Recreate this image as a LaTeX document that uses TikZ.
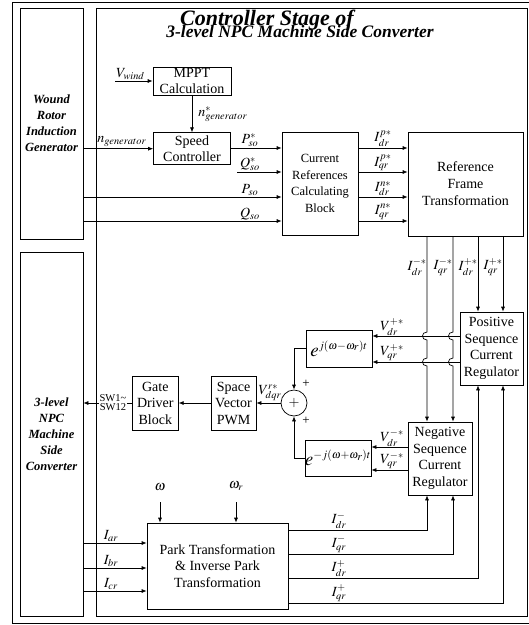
\documentclass[tikz,border=0pt]{standalone}
\usepackage{mathptmx}
\usepackage{fontspec}
\setmainfont{Liberation Serif}
\usetikzlibrary{arrows.meta, positioning}

\begin{document}
\begin{tikzpicture}[
    x=1pt, y=-1pt,
    line width=0.7pt,
    box/.style={
        rectangle,
        draw,
        inner sep=0pt,
        align=center,
        font=\fontsize{14}{16.5}\selectfont
    },
    side/.style={
        rectangle,
        draw,
        inner sep=0pt,
        minimum width=63pt,
        align=center,
        font=\fontsize{12.5}{16}\selectfont\bfseries\itshape
    },
    lbl/.style={inner sep=1pt, font=\fontsize{14}{15}\selectfont},
    arrow/.style={-{Latex[length=5pt,width=4pt]}}
]
\useasboundingbox (0,0) rectangle (529,625);

% frames
\draw (12,2) rectangle (535,623);
\draw (96,8) rectangle (527,616);

\node[anchor=base, font=\fontsize{22}{22}\selectfont\bfseries\itshape] (title1) at (267,25) {Controller Stage of};
\node[anchor=base, font=\fontsize{17.5}{18}\selectfont\bfseries\itshape] (title2) at (300,37) {3-level NPC Machine Side Converter};

% blocks
\node[side, minimum height=231pt] (wrig) at (51.5,123.5) {Wound\\Rotor\\Induction\\Generator};
\node[side, minimum height=364pt] (npc) at (51.5,434) {3-level\\NPC\\Machine\\Side\\Converter};

\node[box, minimum width=78pt, minimum height=28pt] (mppt) at (192,81) {MPPT\\Calculation};
\node[box, minimum width=77pt, minimum height=32pt, below=37pt of mppt] (speed) {Speed\\Controller};
\node[box, minimum width=76pt, minimum height=103pt, font=\fontsize{12.5}{16.5}\selectfont] (cref) at (320,183.5) {Current\\References\\Calculating\\Block};
\node[box, minimum width=115pt, minimum height=104pt, font=\fontsize{14}{17}\selectfont] (rft) at (465.5,184) {Reference\\Frame\\Transformation};
\node[box, minimum width=63pt, minimum height=73pt] (pscr) at (491.5,348.5) {Positive\\Sequence\\Current\\Regulator};
\node[box, minimum width=64pt, minimum height=73pt] (nscr) at (440,458.5) {Negative\\Sequence\\Current\\Regulator};
\node[box, minimum width=66pt, minimum height=37pt, font=\fontsize{19}{19}\selectfont] (epos) at (339,348.5) {$e^{\scriptscriptstyle j(\omega{-}\omega_r)t}$};
\node[box, minimum width=65pt, minimum height=36pt, font=\fontsize{19}{19}\selectfont] (eneg) at (338,458) {$e^{\scriptscriptstyle -j(\omega{+}\omega_r)t}$};
\node[circle, draw, minimum size=26pt, inner sep=0pt, font=\fontsize{14}{14}\selectfont] (sum) at (294,403) {$+$};
\node[box, minimum width=45pt, minimum height=54pt] (svpwm) at (233.5,403) {Space\\Vector\\PWM};
\node[box, minimum width=46pt, minimum height=54pt, left=32pt of svpwm] (gate) {Gate\\Driver\\Block};
\node[box, minimum width=141pt, minimum height=86pt] (park) at (217.5,566) {Park Transformation\\\& Inverse Park\\Transformation};

% levels
\coordinate (vw) at (115,81);
\coordinate (qs) at (237,172);
\coordinate (r1) at (0,148);
\coordinate (r2) at (0,172);
\coordinate (r3) at (0,197);
\coordinate (r4) at (0,221);
\coordinate (c1) at (427,0);
\coordinate (c2) at (453,0);
\coordinate (c3) at (478,0);
\coordinate (c4) at (503,0);
\coordinate (v1) at (0,336);
\coordinate (v2) at (0,362);
\coordinate (v3) at (0,447);
\coordinate (v4) at (0,470);
\coordinate (a1) at (0,543);
\coordinate (a2) at (0,568);
\coordinate (a3) at (0,591);
\coordinate (o1) at (0,530);
\coordinate (o2) at (0,554);
\coordinate (o3) at (0,578);
\coordinate (o4) at (0,603);
\coordinate (w1) at (160,502);
\coordinate (w2) at (236,502);

% upper part
\draw[arrow] (vw) -- (mppt.west);
\draw[arrow] (mppt) -- (speed);
\draw[arrow] (wrig.east |- speed.west) -- (speed.west);
\draw[arrow] (speed.east |- r1) -- (cref.west |- r1);
\draw[arrow] (qs) -- (cref.west |- qs);
\draw[arrow] (wrig.east |- r3) -- (cref.west |- r3);
\draw[arrow] (wrig.east |- r4) -- (cref.west |- r4);
\foreach \r in {r1,r2,r3,r4}
    \draw[arrow] (cref.east |- \r) -- (rft.west |- \r);

\node[lbl, anchor=south west] (lvw) at (vw) {$V_{wind}$};
\node[lbl, anchor=west] (lngs) at (197,114) {$n^*_{generator}$};
\node[lbl, anchor=south west] (lng) at (96,148) {$n_{generator}$};
\node[lbl, above] (lps) at (250,148) {$P^*_{so}$};
\node[lbl, above] (lqs) at (250,172) {$Q^*_{so}$};
\node[lbl, above] (lp) at (250,197) {$P_{so}$};
\node[lbl, above] (lq) at (250,221) {$Q_{so}$};
\node[lbl, above] (lipd) at (383,148) {$I^{p*}_{dr}$};
\node[lbl, above] (lipq) at (383,172) {$I^{p*}_{qr}$};
\node[lbl, above] (lind) at (383,197) {$I^{n*}_{dr}$};
\node[lbl, above] (linq) at (383,221) {$I^{n*}_{qr}$};

% regulators
\foreach \c/\cx in {c1/427,c2/453}
    \draw[arrow] (rft.south -| \c) -- (\cx,332)
        .. controls (\cx-6,332) and (\cx-6,340) .. (\cx,340) -- (\cx,358)
        .. controls (\cx-6,358) and (\cx-6,366) .. (\cx,366) -- (nscr.north -| \c);
\foreach \c in {c3,c4}
    \draw[arrow] (rft.south -| \c) -- (pscr.north -| \c);

\node[lbl, anchor=east] (lmd) at (428,267) {$I^{-*}_{dr}$};
\node[lbl, anchor=east] (lmq) at (454,267) {$I^{-*}_{qr}$};
\node[lbl, anchor=east] (lpd) at (479,267) {$I^{+*}_{dr}$};
\node[lbl, anchor=east] (lpq) at (504,267) {$I^{+*}_{qr}$};

\draw[arrow] (pscr.west |- v1) -- (epos.east |- v1);
\draw[arrow] (pscr.west |- v2) -- (epos.east |- v2);
\draw[arrow] (nscr.west |- v3) -- (eneg.east |- v3);
\draw[arrow] (nscr.west |- v4) -- (eneg.east |- v4);
\node[lbl, above, inner sep=0.5pt] (lvpd) at (392,336) {$V^{+*}_{dr}$};
\node[lbl, above, inner sep=0.5pt] (lvpq) at (392,362) {$V^{+*}_{qr}$};
\node[lbl, above, inner sep=0.5pt] (lvmd) at (392,447) {$V^{-*}_{dr}$};
\node[lbl, above, inner sep=0.5pt] (lvmq) at (392,470) {$V^{-*}_{qr}$};

\draw[arrow] (epos.west) -| (sum.north);
\draw[arrow] (eneg.west) -| (sum.south);
\node[font=\fontsize{13}{13}\selectfont] (pl1) at (306,384) {+};
\node[font=\fontsize{13}{13}\selectfont] (pl2) at (306,421) {+};
\draw[arrow] (sum) -- (svpwm);
\node[lbl, above] (lvr) at (270,402) {$V^{r*}_{dqr}$};
\draw[arrow] (svpwm) -- (gate);
\draw[arrow] (gate) -- (gate -| npc.east);
\node[fill=white, inner sep=0.5pt, align=center, font=\fontsize{10.5}{9}\selectfont] (sw) at (113,403) {SW1\textasciitilde\\SW12};

% park transformation
\foreach \a in {a1,a2,a3}
    \draw[arrow] (npc.east |- \a) -- (park.west |- \a);
\node[lbl, above] (lia) at (111,543) {$I_{ar}$};
\node[lbl, above] (lib) at (111,568) {$I_{br}$};
\node[lbl, above] (lic) at (111,591) {$I_{cr}$};

\node[lbl, above=10pt of w1] (lw1) {$\omega$};
\node[lbl, above=10pt of w2] (lw2) {$\omega_r$};
\draw[arrow] (w1) -- (park.north -| w1);
\draw[arrow] (w2) -- (park.north -| w2);

\draw[arrow] (park.east |- o1) -| (nscr.south -| c1);
\draw[arrow] (park.east |- o2) -| (nscr.south -| c2);
\draw[arrow] (park.east |- o3) -| (pscr.south -| c3);
\draw[arrow] (park.east |- o4) -| (pscr.south -| c4);
\node[lbl, above] (lmd2) at (339,530) {$I^-_{dr}$};
\node[lbl, above] (lmq2) at (339,554) {$I^-_{qr}$};
\node[lbl, above] (lpd2) at (339,578) {$I^+_{dr}$};
\node[lbl, above] (lpq2) at (339,603) {$I^+_{qr}$};

\end{tikzpicture}
\end{document}
